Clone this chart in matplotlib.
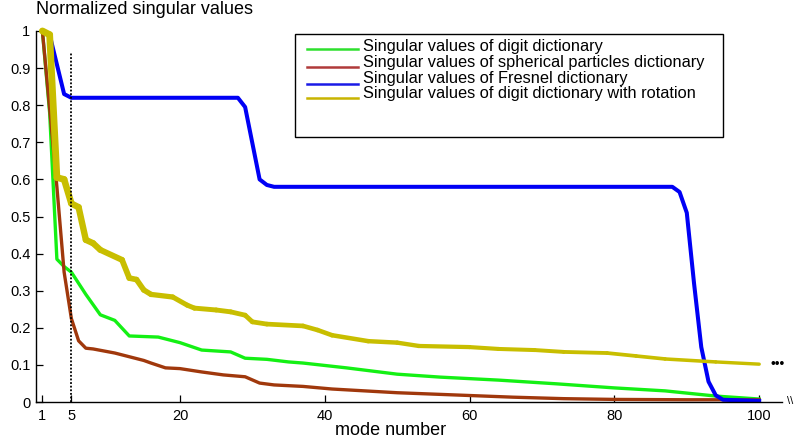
import numpy as np
import matplotlib
matplotlib.use("Agg")
import matplotlib.pyplot as plt
from matplotlib.collections import LineCollection
from matplotlib.lines import Line2D
from matplotlib.patches import Rectangle

plt.rcParams['font.family'] = ['Liberation Sans', 'DejaVu Sans']

# values
modes_digit = [1, 2, 3, 4, 5, 7, 9, 11, 13, 17, 20, 23, 27, 29, 32, 35, 37, 43, 50, 56, 64, 72, 80, 87, 94, 100]
digit = [1.0, 0.78, 0.385, 0.365, 0.35, 0.29, 0.235, 0.22, 0.178, 0.175, 0.16, 0.14, 0.135, 0.118, 0.115,
         0.108, 0.105, 0.092, 0.075, 0.067, 0.059, 0.049, 0.038, 0.03, 0.016, 0.008]

modes_sphere = [1, 2, 3, 4, 5, 6, 7, 8, 11, 13, 15, 16, 18, 20, 23, 26, 29, 31, 33, 37, 41, 50, 58, 66, 73, 80, 90, 100]
sphere = [1.0, 0.79, 0.58, 0.35, 0.225, 0.165, 0.145, 0.143, 0.132, 0.122, 0.112, 0.105, 0.092, 0.09, 0.081,
          0.073, 0.068, 0.051, 0.046, 0.042, 0.035, 0.025, 0.019, 0.013, 0.009, 0.007, 0.006, 0.006]

modes_fresnel = [1, 2, 3, 4, 5, 28, 29, 31, 32, 33, 88, 89, 90, 91, 92, 93, 94, 95, 100]
fresnel = [1.0, 0.99, 0.91, 0.83, 0.82, 0.82, 0.795, 0.60, 0.585, 0.58, 0.58, 0.566, 0.51, 0.32, 0.148,
           0.055, 0.018, 0.006, 0.003]

modes_rot = [1, 2, 3, 4, 5, 6, 7, 8, 9, 12, 13, 14, 15, 16, 19, 21, 22, 25, 27, 29, 30, 32, 37, 39, 41, 46,
             50, 53, 60, 64, 69, 73, 79, 83, 87, 94, 100]
rot = [1.0, 0.99, 0.605, 0.6, 0.535, 0.525, 0.437, 0.428, 0.41, 0.383, 0.334, 0.33, 0.302, 0.29, 0.283,
       0.261, 0.253, 0.248, 0.243, 0.234, 0.216, 0.21, 0.205, 0.194, 0.18, 0.164, 0.16, 0.151, 0.148, 0.143,
       0.14, 0.135, 0.132, 0.124, 0.116, 0.108, 0.102]

labels = ["Singular values of digit dictionary",
          "Singular values of spherical particles dictionary",
          "Singular values of Fresnel dictionary",
          "Singular values of digit dictionary with rotation"]
xticks = [1, 5, 20, 40, 60, 80, 100]
yticks = [0, 0.1, 0.2, 0.3, 0.4, 0.5, 0.6, 0.7, 0.8, 0.9, 1]
yticklabels = ["0", "0.1", "0.2", "0.3", "0.4", "0.5", "0.6", "0.7", "0.8", "0.9", "1"]

c_green = '#14f014'
c_brown = '#a0380c'
c_blue = '#0000f5'
c_yellow = '#c8be00'

W, H = 795, 442
fig = plt.figure(figsize=(W / 100, H / 100), dpi=100)
ax = fig.add_axes([36 / W, 1 - 402 / H, 746 / W, 371 / H])

ax.plot(modes_digit, digit, color=c_green, lw=2.4, clip_on=False, solid_joinstyle='round')
ax.plot(modes_sphere, sphere, color=c_brown, lw=2.4, clip_on=False, solid_joinstyle='round')
ax.plot(modes_fresnel, fresnel, color=c_blue, lw=2.9, clip_on=False, solid_joinstyle='round')

# yellow curve gets thinner towards the right
pts = np.column_stack([modes_rot, rot])
segs = np.stack([pts[:-1], pts[1:]], axis=1)
mid = (np.array(modes_rot[:-1]) + np.array(modes_rot[1:])) / 2
widths = np.interp(mid, [1, 20, 100], [5.0, 3.6, 2.4])
lc = LineCollection(segs, colors=c_yellow, linewidths=widths, capstyle='round', joinstyle='round',
                    clip_on=False)
ax.add_collection(lc)

ax.vlines(5, 0, 0.94, colors='black', linestyles=(0, (1, 1)), lw=1.3)

ax.set_xlim(0.116, 103.15)
ax.set_ylim(0, 1)
ax.set_xticks(xticks)
ax.set_xticklabels([str(t) for t in xticks])
ax.set_yticks(yticks)
ax.set_yticklabels(yticklabels)
ax.tick_params(direction='in', length=5, width=0.9, labelsize=10.5, colors='black')
ax.tick_params(axis='y', pad=4)
ax.tick_params(axis='x', pad=5)
ax.spines['top'].set_visible(False)
ax.spines['right'].set_visible(False)
ax.spines['left'].set_linewidth(1.0)
ax.spines['bottom'].set_linewidth(1.0)

fig.text(36 / W, 1 - 14 / H, "Normalized singular values", fontsize=13, va='baseline', ha='left')
fig.text(391 / W, 1 - 435 / H, "mode number", fontsize=13, va='baseline', ha='center')
fig.text(778 / W, 1 - 364 / H, "\u2022\u2022\u2022", fontsize=10, va='center', ha='center')
fig.text(790 / W, 1 - 401 / H, "\\\\", fontsize=8, va='center', ha='center')

# legend box drawn by hand
fig.add_artist(Rectangle((295 / W, 1 - 137 / H), 428 / W, 103 / H, transform=fig.transFigure,
                         facecolor='white', edgecolor='black', lw=1.0))
leg_colors = ['#2ee02e', '#b03a3a', '#1a1ae6', '#c8b400']
line_y = [49, 67, 84, 98]
text_y = [51, 66.5, 83, 98]
for col, ly, ty, lab in zip(leg_colors, line_y, text_y, labels):
    fig.add_artist(Line2D([307 / W, 358 / W], [1 - ly / H, 1 - ly / H], color=col, lw=1.8,
                          transform=fig.transFigure))
    fig.text(363 / W, 1 - ty / H, lab, fontsize=11.8, va='baseline', ha='left')

fig.savefig("out.png", dpi=100)
